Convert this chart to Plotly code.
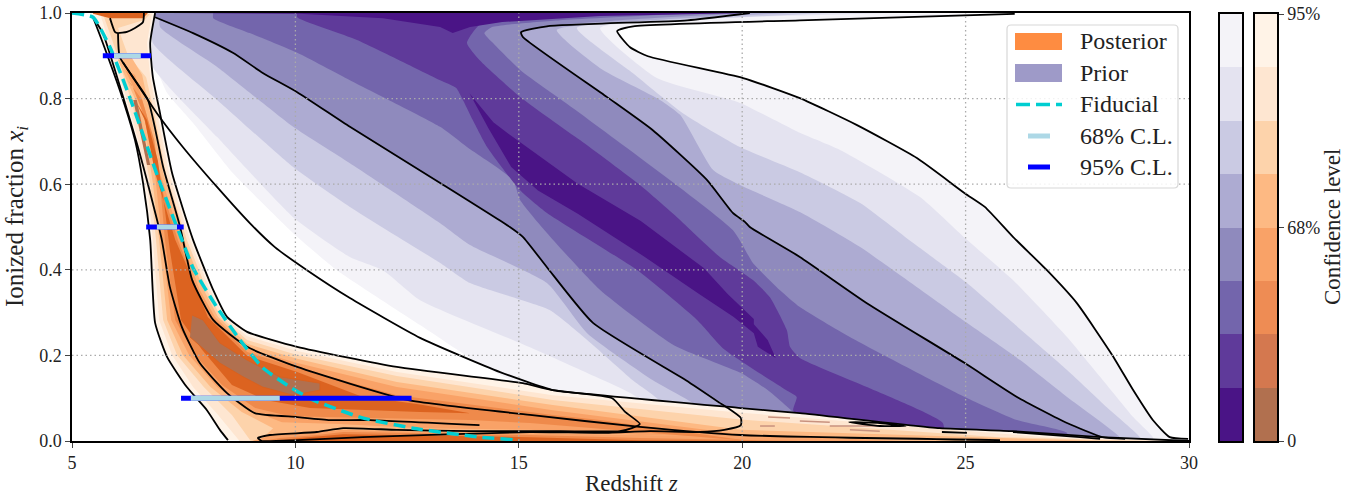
import plotly.graph_objects as go

# ---------- prior confidence bands: lower-left and upper-right edges (z, x_i) ----------
prior_lo1 = [[6.75,.92],[6.97,.85],[7.13,.813],[7.71,.743],[8.6,.626],[10.04,.477],[10.93,.399],[12.79,.271],[13.91,.194],[15.03,.131],[15.76,.112]]
prior_lo2 = [[6.79,.937],[6.81,.874],[8.25,.71],[9.95,.523],[11.22,.43],[11.96,.399],[12.79,.329],[15.03,.229],[16.53,.159],[17.71,.096]]
prior_lo3 = [[6.81,.93],[8.25,.797],[9.95,.64],[11.22,.547],[13.24,.416],[13.91,.369],[15.69,.306],[16.53,.236],[17.55,.142],[18.25,.084]]
prior_lo4 = [[6.97,.967],[8.25,.874],[9.95,.734],[11.22,.649],[13.24,.509],[13.91,.458],[15.63,.369],[16.53,.252],[18.0,.142],[19.16,.068]]
prior_lo5 = [[6.86,.99],[7.71,.953],[8.6,.907],[9.27,.86],[10.04,.815],[11.22,.734],[13.24,.603],[14.8,.5],[15.09,.477],[15.63,.406],[16.66,.276],[18.74,.142],[19.79,.068]]
prior_lo6 = [[8.16,.988],[8.98,.953],[10.04,.907],[11.22,.843],[13.24,.734],[13.84,.687],[14.87,.61],[15.03,.563],[15.63,.486],[16.82,.353],[18.47,.224],[19.97,.159],[20.57,.119],[21.29,.049]]
prior_lo7 = [[10.04,.99],[11.38,.937],[13.24,.843],[13.6,.825],[13.73,.801],[13.97,.75],[14.29,.687],[15.03,.586],[15.63,.533],[17.64,.4],[18.99,.283],[19.61,.213],[20.98,.119],[21.22,.103],[21.14,.072],[21.29,.049]]

prior_hi1 = [[26.1,.998],[21.29,.983],[17.56,.969],[17.2,.958],[17.49,.92],[17.89,.899],[20.02,.848],[21.29,.801],[22.57,.738],[23.91,.661],[24.98,.579],[25.43,.547],[26.06,.477],[26.82,.399],[27.49,.322],[28.28,.201],[28.75,.119],[29.19,.049],[29.57,.009],[29.98,.005]]
prior_hi2 = [[23.53,1],[19.5,.988],[16.82,.965],[18.09,.848],[19.95,.79],[21.29,.72],[22.19,.68],[23.98,.57],[25.03,.47],[26.06,.376],[27.27,.243],[28.01,.15],[28.75,.056],[29.19,.009]]
prior_hi3 = [[21.94,1],[18.6,.983],[16.3,.965],[17.55,.86],[18.67,.766],[19.95,.687],[21.29,.628],[22.64,.556],[23.82,.463],[25.03,.369],[26.06,.276],[27.27,.166],[28.16,.079],[28.9,.009]]
prior_hi4 = [[21.05,1],[17.93,.983],[15.85,.96],[16.82,.871],[18.16,.797],[18.61,.762],[19.35,.633],[19.95,.598],[21.29,.535],[22.64,.453],[25.03,.276],[26.22,.189],[27.27,.103],[28.45,.009]]
prior_hi5 = [[20.17,1],[17.26,.983],[15.05,.955],[16.97,.804],[18,.726],[19.21,.61],[19.79,.533],[20.17,.5],[21.29,.43],[22.79,.322],[24.98,.182],[26.15,.103],[27.27,.042],[28.07,.009]]
prior_hi6 = [[19.05,1],[15.92,.983],[14.4,.967],[14.23,.953],[14.4,.932],[15.03,.867],[16.37,.766],[19.79,.493],[20.24,.416],[20.84,.353],[21.29,.313],[22.41,.243],[24.98,.103],[26.15,.049],[27.27,.019]]
prior_hi7 = [[17.71,1],[15.23,.988],[14.12,.972],[13.84,.93],[14.12,.89],[15.03,.804],[16.37,.703],[17.71,.598],[18.54,.523],[19.5,.43],[20.24,.376],[20.62,.336],[21,.259],[21.07,.22],[21.29,.194],[22.79,.126],[24.49,.042]]

prior_strip8 = [[7.19,1],[10.1,.998],[11.96,.988],[13.24,.967],[13.52,.953],[13.91,.967],[14.63,.979],[16.82,.993],[20.17,1]]
prior_core8 = [[13.9,.812],[14.43,.745],[14.83,.713],[16.32,.601],[17.73,.514],[19.14,.404],[19.68,.343],[20.26,.285],[20.26,.273],[20.57,.236],[20.75,.194],[20.35,.22],[20.26,.252],[19.81,.29],[19.01,.345],[17.82,.43],[16.32,.531],[15.43,.585],[14.83,.64],[14.32,.731]]

# ---------- posterior confidence bands: closed outlines (z, x_i) ----------
post_p1 = [[5.47,.99],[5.69,.93],[6.12,.804],[6.41,.703],[6.59,.603],[6.75,.47],[6.86,.276],[7.13,.196],[7.57,.126],[8.02,.072],[8.31,.026],[8.49,.002],[30,0],[28.01,.009],[26.06,.023],[24.42,.03],[21.29,.065],[19.97,.077],[15.76,.119],[15.09,.135],[12.27,.173],[10.04,.22],[8.92,.255],[8.47,.29],[8.16,.353],[7.71,.47],[7.24,.626],[6.97,.766],[6.81,.85],[6.75,.93],[6.86,1],[5.4,1]]
post_p2 = [[5.81,.937],[6.21,.804],[6.48,.703],[6.68,.603],[6.81,.47],[6.95,.283],[7.24,.201],[7.71,.126],[8.27,.061],[8.75,0],[30,0],[26.89,.008],[19.97,.066],[15.76,.107],[12.27,.161],[10.04,.21],[8.92,.245],[8.4,.29],[8.09,.353],[7.64,.47],[7.17,.626],[6.9,.766],[6.75,.85],[6.68,.93],[6.79,.998],[5.63,.998]]
post_p3 = [[5.9,.937],[6.3,.804],[6.57,.703],[6.75,.603],[6.88,.47],[7.04,.283],[7.35,.201],[7.95,.126],[8.58,.061],[9.0,0],[29.13,0],[25.77,.009],[19.97,.05],[15.76,.096],[12.27,.152],[10.04,.201],[8.92,.236],[8.33,.29],[8.02,.353],[7.57,.47],[7.1,.626],[6.84,.766],[6.66,.85],[6.25,.902],[6.03,.965],[6.63,.984],[6.75,.998],[5.69,.998]]
post_p4 = [[6.03,.89],[6.39,.804],[6.66,.703],[6.81,.603],[6.95,.47],[7.13,.283],[7.48,.201],[8.1,.126],[8.8,.068],[9.5,.03],[9.2,0],[28.01,0],[19.97,.026],[15.76,.084],[12.27,.138],[10.04,.192],[8.92,.227],[8.27,.29],[7.95,.353],[7.51,.47],[7.04,.626],[6.75,.766],[6.57,.855],[6.3,.902]]
post_p5_tail = [[6.19,.867],[6.48,.804],[6.75,.703],[6.88,.603],[7.01,.47],[7.22,.283],[7.62,.201],[8.25,.126],[9.0,.072],[9.7,.044],[11,.04],[12.79,.03],[15.25,.026],[17.71,.014],[23.53,0],[19.97,.016],[15.76,.072],[12.27,.126],[10.04,.182],[8.92,.217],[8.2,.29],[7.86,.353],[7.44,.47],[6.97,.626],[6.66,.766],[6.41,.855]]
post_p5_band = [[9.03,0],[9.43,.012],[10.48,.019],[11.07,.026],[12.27,.023],[15.25,.019],[17.71,.014],[23.53,0]]
post_p6_tail = [[6.25,.843],[6.57,.797],[6.84,.703],[6.97,.603],[7.08,.47],[7.31,.283],[7.75,.201],[8.36,.131],[9.1,.077],[9.88,.058],[11.67,.054],[13.91,.049],[15.25,.042],[17.71,.021],[20.17,0],[16.82,.049],[15.76,.061],[12.27,.107],[10.04,.171],[8.92,.208],[8.13,.29],[7.8,.353],[7.37,.47],[6.9,.626],[6.59,.766],[6.34,.832]]
post_p6_band = [[9.25,0],[9.65,.007],[10.48,.014],[11.07,.021],[12.27,.019],[15.25,.014],[17.71,.007],[21.29,0]]
post_p7_tail = [[6.41,.797],[6.68,.75],[6.92,.656],[7.08,.54],[7.19,.446],[7.44,.283],[7.91,.213],[8.58,.131],[9.32,.096],[10.33,.077],[12.79,.068],[13.91,.065],[12.79,.085],[11.45,.105],[10.04,.161],[8.92,.199],[8.04,.29],[7.71,.376],[7.31,.47],[6.86,.626],[6.63,.75]]
post_p7_band = [[9.54,0],[10.1,.007],[11.07,.016],[12.27,.014],[15.25,.009],[17.71,.002],[20.4,0]]
post_p7_top = [[5.47,.998],[5.85,.988],[6.59,.988],[6.7,1],[5.47,1]]
post_p8_main = [[7.69,.294],[7.93,.283],[8.31,.229],[8.92,.189],[9.65,.15],[10.55,.135],[10.55,.119],[9.95,.107],[9.27,.126],[8.83,.15],[8.31,.182],[7.64,.243]]
post_p8_col = [[6.37,.797],[6.45,.797],[6.75,.645],[6.68,.645]]
post_dash_a = [[20.58,.056],[21.07,.054]]
post_dash_b = [[21.29,.047],[21.96,.044]]
post_dash_c = [[21.96,.035],[23.08,.035]]
post_dash_d = [[20.4,.035],[20.73,.035]]
post_dash_e = [[22.41,.026],[23.08,.023]]

# ---------- black contour lines (z, x_i) ----------
line_prior_low = [[6.14,.885],[6.9,.766],[7.48,.687],[8.25,.593],[8.98,.509],[9.54,.453],[10.26,.399],[11.22,.334],[12.79,.241],[14.58,.161],[15.76,.119],[17.09,.1],[17.38,.068],[17.71,.04],[17.53,.03],[17.26,.023],[15.92,.023],[13.91,.023],[12.27,.026],[11.07,.03],[10.48,.021],[9.43,.014],[9.16,.007],[9.25,0],[10.04,.002],[11.5,.009],[15.25,.021],[16.82,.019],[17.94,.023],[19.05,.021],[19.6,.026],[19.97,.037],[19.97,.054],[19.68,.077],[19.5,.089]]
line_prior_mid = [[6.86,.99],[7.71,.953],[8.6,.907],[9.27,.86],[10.04,.815],[11.22,.734],[13.24,.603],[14.8,.5],[15.09,.477],[15.63,.406],[16.66,.276],[18.74,.142],[19.5,.089]]
line_prior_up = [[20.17,1],[18.77,.983],[15.63,.969],[15.05,.955],[15.09,.944],[16.97,.804],[18,.726],[19.21,.61],[19.79,.533],[20.06,.512],[20.17,.5],[21.29,.43],[22.79,.322],[24.98,.182],[26.15,.103],[27.27,.042],[28.07,.009],[28.57,.005]]
line_post_outer_l = [[5.47,.99],[5.69,.93],[6.12,.804],[6.41,.703],[6.59,.603],[6.75,.47],[6.86,.276],[7.13,.196],[7.57,.126],[8.02,.072],[8.31,.026],[8.49,.002]]
line_post_outer_r = [[6.86,1],[6.75,.93],[6.81,.85],[6.97,.766],[7.24,.626],[7.71,.47],[8.16,.353],[8.47,.29],[8.92,.255],[10.04,.22],[12.27,.173],[15.09,.135],[15.76,.119],[19.97,.077],[21.29,.065],[24.42,.03],[26.06,.023],[28.01,.009],[30,0]]
line_post_in_l = [[5.51,.983],[5.69,.953],[6.45,.696],[6.79,.563],[7.01,.47],[7.19,.36],[7.46,.266],[7.86,.182],[8.47,.112],[9.09,.065],[10.04,.056],[10.77,.049],[11.67,.049],[14.12,.037]]
line_post_in_r = [[6.03,.953],[6.07,.897],[6.7,.797],[7.04,.64],[7.42,.5],[7.69,.376],[8.16,.283],[8.92,.22],[10.04,.173],[12.5,.096],[15.25,.061],[17.71,.033],[19.97,.014],[25.77,.002]]
line_post_top = [[5.85,.988],[5.96,.956],[6.03,.953],[6.23,.956],[6.41,.965],[6.59,.979],[6.61,1]]
line_lens_a = [[22.39,.044],[23.08,.042],[23.66,.035],[23.08,.035],[22.39,.044]]
line_lens_b = [[24.47,.021],[25.03,.019]]
line_lens_c = [[26.06,.021],[27.56,.009],[28.01,.005]]

# ---------- fiducial history and credible intervals ----------
fiducial_z = [5,5.47,5.85,6.3,6.97,7.46,7.71,8.24,8.76,9.27,9.88,10.39,11.5,12.63,14.12,14.95,15]
fiducial_x = [1,.99,.92,.801,.603,.47,.404,.313,.236,.171,.126,.096,.054,.03,.009,.002,0]
cl_x = [0.9, 0.5, 0.1]
cl95_lo = [5.69, 6.66, 7.44]
cl95_hi = [6.77, 7.5, 12.6]
cl68_lo = [5.94, 6.9, 7.66]
cl68_hi = [6.54, 7.35, 9.65]

# ---------- colours, ticks, labels ----------
purples = ["#4a1486", "#5f3a9a", "#7365ac", "#8f8abd", "#adabd2", "#cacae3", "#e4e3f0", "#f4f3f8"]
oranges_bar = ["#b1704f", "#d4784f", "#ee8c54", "#f9a267", "#fdb983", "#fdd3ab", "#fee6d1", "#fff3e7"]
post_fill = ["#fff3e7", "#fee6d1", "#fdd3ab", "#fdb983", "#f9a267", "#ef8a4b", "#dc6320", "#b1704f"]
x_ticks = [5, 10, 15, 20, 25, 30]
y_ticks = [0.0, 0.2, 0.4, 0.6, 0.8, 1.0]
legend_labels = ["Posterior", "Prior", "Fiducial", "68% C.L.", "95% C.L."]
cb_ticks = [0, 4, 8]
cb_labels = ["0", "68%", "95%"]

FONT = "Liberation Serif"
fig = go.Figure()


def poly(pts, color, line=None, smooth=False):
    fig.add_trace(go.Scatter(x=[p[0] for p in pts], y=[p[1] for p in pts], mode="lines", fill="toself",
                             fillcolor=color,
                             line=dict(width=0.8 if line else 0, color=line or color,
                                       shape="spline" if smooth else "linear", smoothing=0.5),
                             hoverinfo="skip", showlegend=False))


def band(lo, hi, color):
    pts = [[lo[0][0], 1.0]] + lo + [[lo[-1][0], 0.0], [hi[-1][0], 0.0]] + hi[::-1]
    poly(pts, color, smooth=True)


band(prior_lo1, prior_hi1, purples[7])
band(prior_lo2, prior_hi2, purples[6])
band(prior_lo3, prior_hi3, purples[5])
band(prior_lo4, prior_hi4, purples[4])
band(prior_lo5, prior_hi5, purples[3])
band(prior_lo6, prior_hi6, purples[2])
band(prior_lo7, prior_hi7, purples[1])
poly(prior_strip8, purples[0])
poly(prior_core8, purples[0])

poly(post_p1, post_fill[0])
poly(post_p2, post_fill[1])
poly(post_p3, post_fill[2])
poly(post_p4, post_fill[3])
poly(post_p5_tail, post_fill[4])
poly(post_p5_band, post_fill[4])
poly(post_p6_tail, post_fill[5])
poly(post_p6_band, post_fill[5])
poly(post_p7_tail, post_fill[6])
poly(post_p7_band, post_fill[6])
poly(post_p7_top, post_fill[6])
poly(post_p8_main, post_fill[7], line="#d9601c")
poly(post_p8_col, post_fill[7])

for ln in [post_dash_a, post_dash_b, post_dash_c, post_dash_d, post_dash_e]:
    fig.add_trace(go.Scatter(x=[p[0] for p in ln], y=[p[1] for p in ln], mode="lines",
                             line=dict(color="#c9927f", width=1.5), hoverinfo="skip", showlegend=False))

for ln in [line_prior_low, line_prior_mid, line_prior_up, prior_hi1, line_post_outer_l, line_post_outer_r,
           line_post_in_l, line_post_in_r, line_post_top, line_lens_a, line_lens_b, line_lens_c]:
    fig.add_trace(go.Scatter(x=[p[0] for p in ln], y=[p[1] for p in ln], mode="lines",
                             line=dict(color="black", width=1.8, shape="spline", smoothing=0.5),
                             hoverinfo="skip", showlegend=False))

fig.add_trace(go.Scatter(x=fiducial_z, y=fiducial_x, mode="lines",
                         line=dict(color="#00ced1", width=3.5, dash="12px,6px", shape="spline", smoothing=0.5),
                         hoverinfo="skip", showlegend=False))

for i in range(3):
    fig.add_trace(go.Scatter(x=[cl95_lo[i], cl95_hi[i]], y=[cl_x[i]] * 2, mode="lines",
                             line=dict(color="#0000ff", width=5), hoverinfo="skip", showlegend=False))
    fig.add_trace(go.Scatter(x=[cl68_lo[i], cl68_hi[i]], y=[cl_x[i]] * 2, mode="lines",
                             line=dict(color="#add8e6", width=5), hoverinfo="skip", showlegend=False))

# colour bars
for i in range(8):
    fig.add_trace(go.Bar(x=[0], y=[1], base=[i], width=1, marker=dict(color=purples[i], line=dict(width=0)),
                         xaxis="x2", yaxis="y2", hoverinfo="skip", showlegend=False))
    fig.add_trace(go.Bar(x=[0], y=[1], base=[i], width=1, marker=dict(color=oranges_bar[i], line=dict(width=0)),
                         xaxis="x3", yaxis="y3", hoverinfo="skip", showlegend=False))

shapes = []
for v in x_ticks[1:-1]:
    shapes.append(dict(type="line", xref="x", yref="y", x0=v, x1=v, y0=0, y1=1, layer="above",
                       line=dict(color="#aaaaaa", width=1.3, dash="1.5px,3px")))
for v in y_ticks[1:-1]:
    shapes.append(dict(type="line", xref="x", yref="y", x0=5, x1=30, y0=v, y1=v, layer="above",
                       line=dict(color="#aaaaaa", width=1.3, dash="1.5px,3px")))

W, H = 1352.0, 495.0
L, R, T, B = 72, 75, 13, 54
PW, PH = W - L - R, H - T - B


def px(v):
    return (v - L) / PW


def py(v):
    return 1 - (v - T) / PH


# legend (drawn in figure coordinates so that it has the reference's proportions)
r = 4
x0, x1, y0, y1 = px(1007), px(1178), py(25), py(188)
dx, dy = r / PW, r / PH
shapes.append(dict(type="path", xref="paper", yref="paper", layer="above",
                   path=f"M {x0+dx} {y0} L {x1-dx} {y0} Q {x1} {y0} {x1} {y0-dy} L {x1} {y1+dy} Q {x1} {y1} {x1-dx} {y1} "
                        f"L {x0+dx} {y1} Q {x0} {y1} {x0} {y1+dy} L {x0} {y0-dy} Q {x0} {y0} {x0+dx} {y0} Z",
                   fillcolor="rgba(255,255,255,0.85)", line=dict(color="#d8d8d8", width=1.2)))
shapes.append(dict(type="rect", xref="paper", yref="paper", layer="above", x0=px(1015), x1=px(1062), y0=py(33), y1=py(50),
                   fillcolor="#fe8c41", line=dict(width=0)))
shapes.append(dict(type="rect", xref="paper", yref="paper", layer="above", x0=px(1015), x1=px(1062), y0=py(64), y1=py(82),
                   fillcolor="#9e9ac8", line=dict(width=0)))
shapes.append(dict(type="line", xref="paper", yref="paper", layer="above", x0=px(1016), x1=px(1062), y0=py(104.5), y1=py(104.5),
                   line=dict(color="#00ced1", width=3.5, dash="14px,6px")))
shapes.append(dict(type="line", xref="paper", yref="paper", layer="above", x0=px(1028), x1=px(1050), y0=py(136), y1=py(136),
                   line=dict(color="#add8e6", width=5)))
shapes.append(dict(type="line", xref="paper", yref="paper", layer="above", x0=px(1028), x1=px(1050), y0=py(167), y1=py(167),
                   line=dict(color="#0000ff", width=5)))

annotations = []
for label, yy in zip(legend_labels, [41, 73, 104, 136, 167]):
    annotations.append(dict(text=label, xref="paper", yref="paper", x=px(1080), y=py(yy), xanchor="left", yanchor="middle",
                            showarrow=False, font=dict(family=FONT, size=24, color="#222222"), xshift=-2))
annotations.append(dict(text="Confidence level", xref="paper", yref="paper", x=px(1332), y=py(227), textangle=-90,
                        xanchor="center", yanchor="middle", showarrow=False, font=dict(family=FONT, size=23, color="#222222")))
annotations.append(dict(text="Redshift <i>z</i>", xref="paper", yref="paper", x=px(631), y=py(483),
                        xanchor="center", yanchor="middle", showarrow=False, font=dict(family=FONT, size=23, color="#222222")))
annotations.append(dict(text="Ionized fraction <i>x<sub>i</sub></i>", xref="paper", yref="paper", x=px(17), y=py(217), textangle=-90,
                        xanchor="center", yanchor="middle", showarrow=False, font=dict(family=FONT, size=25, color="#222222")))

axis_common = dict(showline=True, linecolor="black", linewidth=1.5, mirror=True, zeroline=False, showgrid=False, automargin=False)
fig.update_layout(
    width=1352, height=495, autosize=False, margin=dict(l=L, r=R, t=T, b=B, autoexpand=False), paper_bgcolor="white", plot_bgcolor="white",
    showlegend=False, barmode="overlay", bargap=0, shapes=shapes, annotations=annotations,
    font=dict(family=FONT, color="#222222"),
    xaxis=dict(domain=[0, (1189 - L) / PW], range=[5, 30], tickvals=x_ticks, ticktext=[str(v) for v in x_ticks],
               ticks="outside", ticklen=5, tickwidth=1.3, tickfont=dict(size=18), anchor="y", **axis_common),
    yaxis=dict(domain=[0, 1], range=[0, 1], tickvals=y_ticks, ticktext=[f"{v:.1f}" for v in y_ticks],
               ticks="outside", ticklen=5, tickwidth=1.3, tickfont=dict(size=18), anchor="x", **axis_common),
    xaxis2=dict(domain=[px(1220), px(1242)], range=[-0.5, 0.5], showticklabels=False, ticks="", anchor="y2", **axis_common),
    yaxis2=dict(domain=[0, py(14)], range=[0, 8], showticklabels=False, ticks="", anchor="x2", **axis_common),
    xaxis3=dict(domain=[px(1255), px(1277)], range=[-0.5, 0.5], showticklabels=False, ticks="", anchor="y3", **axis_common),
    yaxis3=dict(domain=[0, py(14)], range=[0, 8], tickvals=cb_ticks, ticktext=cb_labels, side="right", ticks="outside", ticklen=5,
                tickwidth=1.3, tickfont=dict(size=18), anchor="x3", **axis_common),
)

fig.write_html("out.html", config={"displayModeBar": False}, post_script="document.body.style.margin='0';")
